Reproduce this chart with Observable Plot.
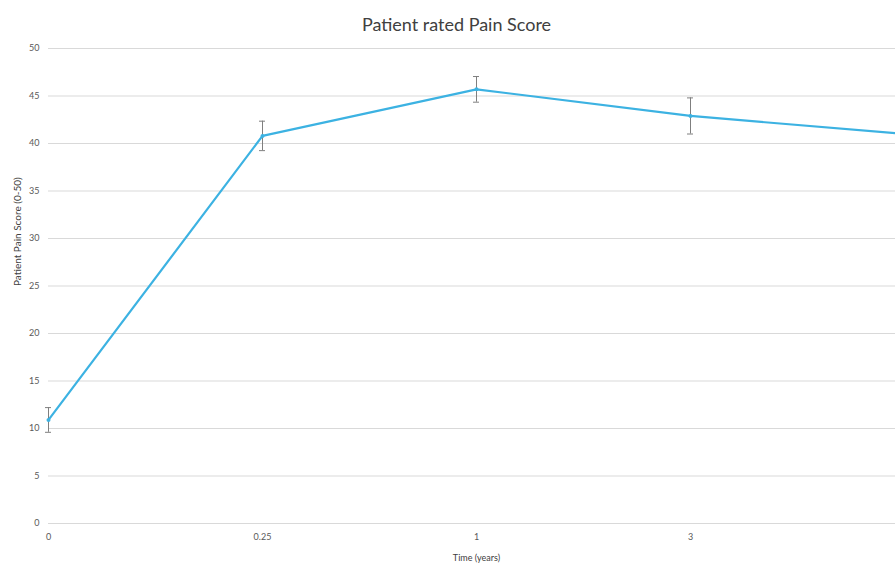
<!DOCTYPE html>
<html>
<head>
<meta charset="utf-8">
<script src="https://cdn.jsdelivr.net/npm/d3@7"></script>
<script src="https://cdn.jsdelivr.net/npm/@observablehq/plot@0.6"></script>
<style>
  html, body { margin: 0; padding: 0; background: #fff; overflow: hidden; }
  #wrap { width: 895px; height: 567px; position: relative; font-family: Lato, "Open Sans", sans-serif; }
  #title { height: 40px; line-height: 48px; text-align: center; font-size: 18px; color: #404040; padding-left: 18px; box-sizing: border-box; }
</style>
</head>
<body>
<div id="wrap">
  <div id="title">Patient rated Pain Score</div>
  <div id="chart"></div>
</div>
<script>
const times = ["0", "0.25", "1", "3", "5"];
const shownTimeTicks = ["0", "0.25", "1", "3"];
const means = [10.9, 40.8, 45.7, 42.9, 41.0];
const errs = [1.3, 1.55, 1.35, 1.9, 1.5];
const yTicks = [0, 5, 10, 15, 20, 25, 30, 35, 40, 45, 50];

const data = times.map((t, i) => ({t, m: means[i], lo: means[i] - errs[i], hi: means[i] + errs[i]}));

const chart = Plot.plot({
  width: 895,
  height: 527,
  marginTop: 8,
  marginBottom: 44,
  marginLeft: 48,
  marginRight: 0,
  style: {fontFamily: "Lato, 'Open Sans', sans-serif", fontSize: "9px", color: "#595959"},
  x: {type: "point", domain: times, range: [48, 904], padding: 0, label: null},
  y: {domain: [0, 50], ticks: yTicks, label: null},
  marks: [
    Plot.gridY(yTicks, {stroke: "#d9d9d9", strokeOpacity: 1, strokeWidth: 1}),
    Plot.axisY({ticks: yTicks, tickSize: 0, tickPadding: 9, fontSize: 9, fill: "#595959", label: null}),
    Plot.axisX({ticks: shownTimeTicks, tickSize: 0, tickPadding: 10, fontSize: 9, fill: "#595959", label: null}),
    Plot.text(["Patient Pain Score (0-50)"], {frameAnchor: "left", dx: -31, rotate: -90, fontSize: 10, fill: "#404040"}),
    Plot.text(["Time (years)"], {x: () => "1", frameAnchor: "bottom", dy: 37, fontSize: 9, fill: "#404040"}),
    Plot.line(data, {x: "t", y: "m", stroke: "#3cb2e2", strokeWidth: 2.2}),
    Plot.ruleX(data, {x: "t", y1: "lo", y2: "hi", stroke: "#7f7f7f", strokeWidth: 1}),
    Plot.ruleY(data, {x1: "t", x2: "t", y: "hi", stroke: "#7f7f7f", strokeWidth: 1, insetLeft: -3, insetRight: -3}),
    Plot.ruleY(data, {x1: "t", x2: "t", y: "lo", stroke: "#7f7f7f", strokeWidth: 1, insetLeft: -3, insetRight: -3}),
    Plot.dot(data, {x: "t", y: "m", r: 2, fill: "#3cb2e2"})
  ]
});
document.getElementById("chart").appendChild(chart);
</script>
</body>
</html>
